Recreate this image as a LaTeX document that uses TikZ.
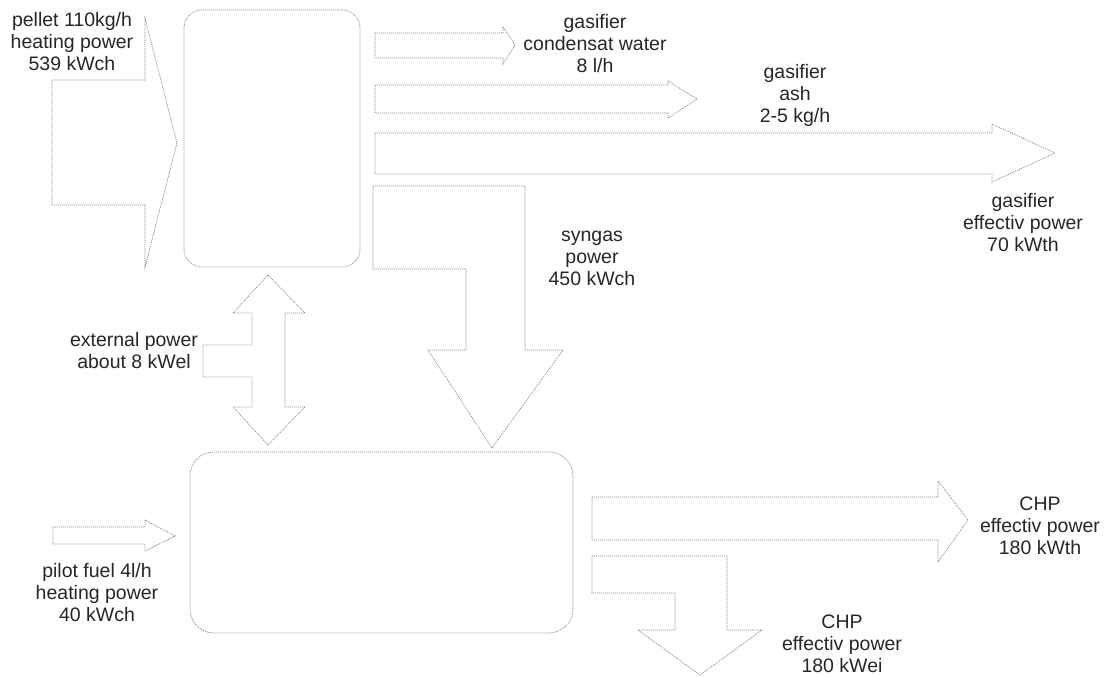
\documentclass[tikz,border=0pt]{standalone}
\usepackage{fontspec}
\setmainfont{Liberation Sans}

\begin{document}
\begin{tikzpicture}[x=1pt, y=-1pt,
    flow/.style={draw=black!50, line width=0.7pt, dash pattern=on 1pt off 1pt},
    unit/.style={flow, rounded corners=18pt, inner sep=0pt},
    lbl/.style={align=center, inner sep=0pt, text=black!85, font=\fontsize{19.5}{22}\selectfont}]
        \useasboundingbox (0,0) rectangle (1111,677);

        % Units
        \node[unit, minimum width=176pt, minimum height=257pt] (gasifier) at (272,138.5) {};
        \node[unit, rounded corners=24pt, minimum width=383pt, minimum height=181pt] (chp) at (381.5,542.5) {};

        % Inputs
        \draw[flow] (52,80) -- (145,80) -- (145,18) -- (177,143) -- (145,267) -- (145,205) -- (52,205) -- cycle;
        \draw[flow] (53,527) -- (145,527) -- (145,520) -- (175,536) -- (145,551) -- (145,544) -- (53,544) -- cycle;

        % Gasifier outputs
        \draw[flow] (375,33) -- (503,33) -- (503,27) -- (515,45) -- (503,64) -- (503,58) -- (375,58) -- cycle;
        \draw[flow] (375,85) -- (668,85) -- (668,81) -- (697,99) -- (668,118) -- (668,113) -- (375,113) -- cycle;
        \draw[flow] (375,133) -- (992,133) -- (992,124) -- (1055,153) -- (992,182) -- (992,174) -- (375,174) -- cycle;

        % Syngas to CHP
        \draw[flow] (373,186) -- (525,186) -- (525,350) -- (563,350) -- (492,448) -- (428,350)
            -- (466,350) -- (466,269) -- (373,269) -- cycle;

        % External power (both ways)
        \draw[flow] (268,275) -- (305,313) -- (285,313) -- (285,407) -- (305,407) -- (268,445)
            -- (233,407) -- (252,407) -- (252,377) -- (203,377) -- (203,345) -- (252,345)
            -- (252,313) -- (233,313) -- cycle;

        % CHP outputs
        \draw[flow] (592,497) -- (938,497) -- (938,481) -- (968,520) -- (938,562) -- (938,540) -- (592,540) -- cycle;
        \draw[flow] (592,556) -- (727,556) -- (727,630) -- (762,630) -- (700,675) -- (638,630)
            -- (675,630) -- (675,593) -- (592,593) -- cycle;

        % Labels
        \node[lbl] (pellet) at (72,42) {pellet 110kg/h\\heating power\\539 kWch};
        \node[lbl] (condensat) at (595,44) {gasifier\\condensat water\\8 l/h};
        \node[lbl] (ash) at (795,95) {gasifier\\ash\\2-5 kg/h};
        \node[lbl] (gasout) at (1023,223) {gasifier\\effectiv power\\70 kWth};
        \node[lbl] (syngas) at (592,258) {syngas\\power\\450 kWch};
        \node[lbl] (extpower) at (134,351) {external power\\about 8 kWel};
        \node[lbl] (pilot) at (97,593) {pilot fuel 4l/h\\heating power\\40 kWch};
        \node[lbl] (chpth) at (1040,526) {CHP\\effectiv power\\180 kWth};
        \node[lbl] (chpel) at (842,644) {CHP\\effectiv power\\180 kWei};
\end{tikzpicture}
\end{document}
